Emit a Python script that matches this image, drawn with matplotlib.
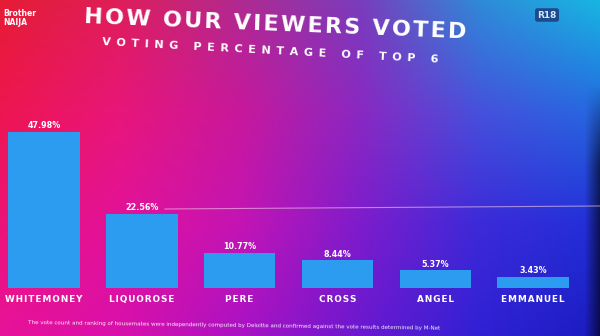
import numpy as np
import matplotlib
matplotlib.use("Agg")
import matplotlib.pyplot as plt
from matplotlib.colors import to_rgb

# Voting results
names = ["WHITEMONEY", "LIQUOROSE", "PERE", "CROSS", "ANGEL", "EMMANUEL"]
votes = [47.98, 22.56, 10.77, 8.44, 5.37, 3.43]
title = "HOW OUR VIEWERS VOTED"
subtitle = "VOTING PERCENTAGE OF TOP 6"
footnote = ("The vote count and ranking of housemates were independently computed by "
            "Deloitte and confirmed against the vote results determined by M-Net")

W, H = 600, 336
fig = plt.figure(figsize=(W / 100, H / 100), dpi=100)


def spaced(s, gap="\u200a"):
    return gap.join(s)


# Gradient backdrop: a coarse colour grid blended bilinearly over the canvas
grid = [
    ["#e61c34", "#de1e5a", "#b02a90", "#7a3cbc", "#2f8ad8", "#18b6e2"],
    ["#ee1650", "#e8167a", "#c8189c", "#8a28c2", "#4650dc", "#2468e0"],
    ["#ec1478", "#e2129a", "#c414b4", "#7e1ccc", "#3c2ad8", "#2030d8"],
    ["#e8129a", "#d810ac", "#aa12c4", "#6a18d0", "#3020d4", "#1a1cc0"],
]
g = np.array([[to_rgb(c) for c in row] for row in grid])
gy = np.linspace(0, 1, g.shape[0])
gx = np.linspace(0, 1, g.shape[1])
yy = np.linspace(0, 1, H)
xx = np.linspace(0, 1, W)
tmp = np.empty((g.shape[0], W, 3))
for i in range(g.shape[0]):
    for c in range(3):
        tmp[i, :, c] = np.interp(xx, gx, g[i, :, c])
img = np.empty((H, W, 3))
for j in range(W):
    for c in range(3):
        img[:, j, c] = np.interp(yy, gy, tmp[:, j, c])
# darker bezel strip at the lower right edge
fade_x = np.clip((xx - 0.975) / 0.025, 0, 1)
fade_y = np.clip((yy - 0.25) / 0.25, 0, 1)
img *= (1 - 0.6 * fade_y[:, None] * fade_x[None, :])[:, :, None]

bg = fig.add_axes([0, 0, 1, 1], zorder=0)
bg.imshow(img, extent=[0, W, H, 0], aspect="auto", interpolation="bilinear")
bg.set_xlim(0, W)
bg.set_ylim(H, 0)
bg.axis("off")

# faint guide line behind the bars
bg.plot([165, 600], [209, 206], color="#f4c8ee", lw=0.8, alpha=0.6)

# Titles
bg.text(275, 25, spaced(title), color="white", fontsize=16, fontweight="bold",
        ha="center", va="center", rotation=-2.3, rotation_mode="anchor",
        family="DejaVu Sans")
bg.text(270, 51, spaced(subtitle, "\u2002"), color="white", fontsize=8,
        fontweight="bold", ha="center", va="center", rotation=-3.0,
        rotation_mode="anchor", family="DejaVu Sans")

# Channel logo and rating badge
bg.text(3, 18, "Brother\nNAIJA", color="white", fontsize=5.5, fontweight="bold",
        ha="left", va="center", linespacing=1.0, family="DejaVu Sans Condensed")
bg.text(547, 15, "R18", color="#cfe6ff", fontsize=6.5, fontweight="bold",
        ha="center", va="center", family="DejaVu Sans Condensed",
        bbox=dict(boxstyle="round,pad=0.25", fc="#1c4a8a", ec="none"))

# Footnote
bg.text(28, 323, footnote, color="white", fontsize=4.1, ha="left", va="center",
        rotation=-0.8, rotation_mode="anchor", alpha=0.9)

# Bar chart
ax = fig.add_axes([0, 48 / H, 1, 163 / H], zorder=1)
ax.patch.set_alpha(0)
x = np.arange(len(names))
ax.bar(x, votes, width=0.73, color="#2b9cf0", edgecolor="none")
ax.set_xlim(-0.45, 5.685)
ax.set_ylim(0, 50)
for xi, v, n in zip(x, votes, names):
    ax.text(xi, v + 0.6, f"{v:.2f}%", color="white", fontsize=5.8, fontweight="bold",
            ha="center", va="bottom", family="DejaVu Sans Condensed")
    ax.text(xi, -2.2, spaced(n), color="white", fontsize=6.4, fontweight="bold",
            ha="center", va="top", family="DejaVu Sans")
ax.axis("off")

fig.savefig("out.png", dpi=100)
